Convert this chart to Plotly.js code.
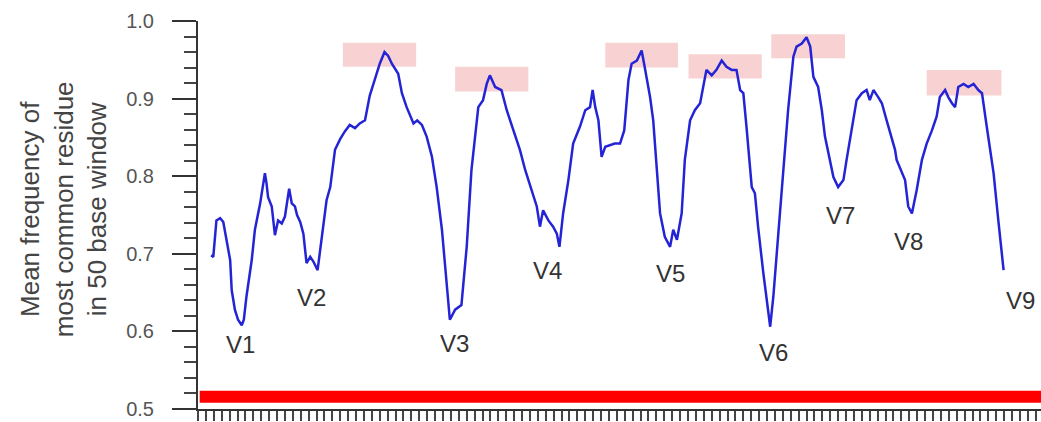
<!DOCTYPE html>
<html>
<head>
<meta charset="utf-8">
<script src="https://cdn.plot.ly/plotly-3.0.1.min.js"></script>
<style>
  html, body { margin: 0; padding: 0; background: #ffffff; }
  #chart { width: 1041px; height: 422px; }
</style>
</head>
<body>
<div id="chart"></div>
<script>
// Alignment position (bases) and mean frequency of most common residue
const position = [
  25, 29, 35, 42, 48, 54, 61, 64, 70, 76, 83, 87, 92, 102, 108, 118, 127, 130, 133, 140,
  146, 152, 159, 165, 173, 178, 184, 188, 194, 200, 206, 213, 219, 227, 235, 244, 251, 257, 260, 270,
  279, 288, 298, 307, 317, 326, 336, 345, 354, 361, 368, 380, 387, 396, 409, 416, 425, 434, 444, 453,
  463, 472, 478, 488, 500, 510, 519, 532, 541, 548, 554, 564, 576, 586, 592, 602, 611, 621, 633, 643,
  649, 655, 665, 674, 681, 686, 693, 703, 712, 725, 735, 744, 749, 754, 760, 766, 773, 782, 791, 801,
  809, 817, 823, 833, 842, 848, 858, 864, 871, 877, 886, 896, 902, 909, 918, 924, 934, 943, 953, 959,
  965, 975, 984, 994, 1003, 1013, 1022, 1029, 1035, 1041, 1051, 1057, 1063, 1073, 1082, 1086, 1092, 1101, 1111, 1120,
  1130, 1136, 1146, 1155, 1162, 1168, 1177, 1184, 1190, 1200, 1206, 1215, 1225, 1231, 1241, 1250, 1260, 1269, 1275, 1282,
  1291, 1298, 1307, 1317, 1323, 1326, 1336, 1342, 1348, 1355, 1364, 1374, 1383, 1393, 1402, 1408, 1418, 1424, 1431, 1437,
  1443, 1453, 1462, 1472, 1481, 1488, 1497, 1510, 1519, 1529
];
const meanFreq = [
  0.698, 0.696, 0.743, 0.746, 0.741, 0.718, 0.692, 0.653, 0.628, 0.615, 0.608, 0.615, 0.645, 0.692, 0.731, 0.765, 0.804, 0.791, 0.773, 0.761,
  0.724, 0.743, 0.739, 0.748, 0.784, 0.765, 0.761, 0.750, 0.741, 0.726, 0.688, 0.696, 0.690, 0.679, 0.722, 0.769, 0.786, 0.816, 0.834, 0.848,
  0.858, 0.866, 0.862, 0.868, 0.872, 0.904, 0.925, 0.945, 0.960, 0.955, 0.945, 0.932, 0.907, 0.889, 0.868, 0.872, 0.866, 0.851, 0.825, 0.786,
  0.731, 0.662, 0.615, 0.628, 0.634, 0.709, 0.808, 0.889, 0.898, 0.919, 0.930, 0.915, 0.911, 0.885, 0.872, 0.851, 0.834, 0.808, 0.782, 0.761,
  0.735, 0.756, 0.743, 0.735, 0.726, 0.709, 0.752, 0.795, 0.842, 0.864, 0.885, 0.889, 0.911, 0.889, 0.872, 0.825, 0.838, 0.840, 0.842, 0.842,
  0.859, 0.924, 0.945, 0.949, 0.962, 0.940, 0.902, 0.872, 0.808, 0.752, 0.722, 0.709, 0.731, 0.718, 0.752, 0.821, 0.872, 0.885, 0.894, 0.915,
  0.937, 0.930, 0.937, 0.949, 0.941, 0.937, 0.937, 0.911, 0.907, 0.864, 0.786, 0.778, 0.735, 0.675, 0.623, 0.606, 0.645, 0.726, 0.808, 0.885,
  0.954, 0.967, 0.971, 0.979, 0.967, 0.928, 0.915, 0.885, 0.851, 0.821, 0.799, 0.786, 0.795, 0.821, 0.859, 0.898, 0.907, 0.911, 0.898, 0.911,
  0.902, 0.894, 0.872, 0.846, 0.834, 0.821, 0.804, 0.795, 0.761, 0.752, 0.782, 0.821, 0.842, 0.859, 0.877, 0.902, 0.911, 0.902, 0.894, 0.889,
  0.915, 0.919, 0.915, 0.919, 0.911, 0.907, 0.864, 0.804, 0.743, 0.679
];

// Variable region labels
const regionNames = ["V1", "V2", "V3", "V4", "V5", "V6", "V7", "V8", "V9"];
const regionLabelX = [80, 216, 486, 664, 896, 1092, 1220, 1348, 1562];
const regionLabelY = [0.583, 0.644, 0.584, 0.679, 0.674, 0.573, 0.749, 0.716, 0.640];

// Conserved (highlighted) regions
const boxStart = [275, 488, 773, 931, 1088, 1383];
const boxEnd   = [414, 627, 911, 1070, 1228, 1525];
const boxLow   = [0.941, 0.909, 0.940, 0.926, 0.952, 0.904];
const boxHigh  = [0.972, 0.941, 0.972, 0.957, 0.983, 0.937];

// Red baseline band
const bandLow = 0.508;
const bandHigh = 0.5236;

const yTitleLines = ["Mean frequency of", "most common residue", "in 50 base window"];

const FONT = "Liberation Sans, Arial, Helvetica, sans-serif";

const shapes = [];
for (let i = 0; i < boxStart.length; i++) {
  shapes.push({
    type: "rect", xref: "x", yref: "y", layer: "below",
    x0: boxStart[i], x1: boxEnd[i], y0: boxLow[i], y1: boxHigh[i],
    fillcolor: "#f8d2d2", line: { width: 0 }
  });
}
shapes.push({
  type: "rect", xref: "paper", yref: "y", layer: "above",
  x0: 0.002, x1: 1, y0: bandLow, y1: bandHigh,
  fillcolor: "#ff0000", line: { width: 0 }
});

const annotations = regionNames.map((n, i) => ({
  x: regionLabelX[i], y: regionLabelY[i], xref: "x", yref: "y",
  text: n, showarrow: false,
  font: { family: FONT, size: 24, color: "#333333" }
}));
annotations.push({
  xref: "paper", yref: "paper", x: 0, y: 0.515,
  xanchor: "center", yanchor: "middle", xshift: -134,
  text: yTitleLines.join("<br>"), textangle: -90, showarrow: false,
  font: { family: FONT, size: 26, color: "#444444" }
});

const trace = {
  x: position, y: meanFreq, type: "scatter", mode: "lines",
  line: { color: "#2424d6", width: 2.5 },
  hoverinfo: "skip"
};

const layout = {
  width: 1041, height: 422,
  margin: { l: 198, r: 0, t: 21, b: 13, pad: 0 },
  paper_bgcolor: "#ffffff", plot_bgcolor: "#ffffff",
  showlegend: false,
  xaxis: {
    range: [0, 1600], showgrid: false, zeroline: false,
    showline: true, linecolor: "#333333", linewidth: 2,
    ticks: "outside", ticklen: 10, tickwidth: 2, tickcolor: "#444444",
    tick0: 0, dtick: 15, showticklabels: false
  },
  yaxis: {
    range: [0.5, 1.0], showgrid: false, zeroline: false,
    showline: true, linecolor: "#333333", linewidth: 2,
    ticks: "outside", ticklen: 24, tickwidth: 2, tickcolor: "#333333",
    tick0: 0.5, dtick: 0.1, tickformat: ".1f",
    ticklabelstandoff: 14,
    tickfont: { family: FONT, size: 20, color: "#555555" },
    minor: { dtick: 0.02, ticks: "outside", ticklen: 12, tickwidth: 2, tickcolor: "#444444", showgrid: false }
  },
  shapes: shapes,
  annotations: annotations
};

Plotly.newPlot("chart", [trace], layout, { displayModeBar: false, staticPlot: true });
</script>
</body>
</html>
